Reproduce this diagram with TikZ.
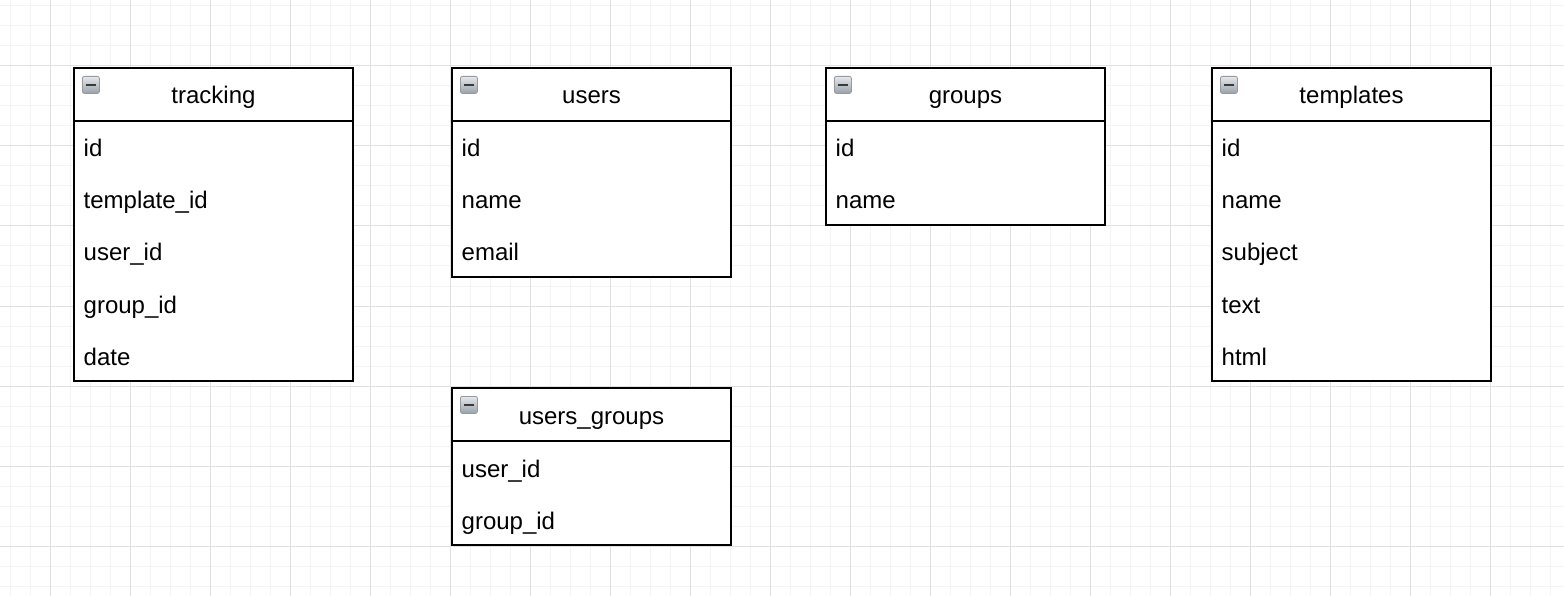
\documentclass[tikz,border=0pt]{standalone}
\usepackage{fontspec}
\setmainfont{Liberation Sans}
\usetikzlibrary{calc}

\definecolor{gridminor}{HTML}{F4F4F4}
\definecolor{gridmajor}{HTML}{E0E0E0}
\definecolor{icondark}{HTML}{3A3A3A}
\definecolor{iconlight}{HTML}{E4E8EC}
\definecolor{iconshade}{HTML}{9AA2AA}

\tikzset{
  tablebox/.style={draw=black, line width=2pt, fill=white, minimum width=279pt,
    inner sep=0pt, anchor=north west},
  tabletitle/.style={inner sep=0pt, anchor=base, font=\fontsize{24}{28}\selectfont},
  tablefield/.style={inner sep=0pt, anchor=base west, font=\fontsize{24}{28}\selectfont},
  divider/.style={line width=2pt},
  collapseicon/.style={draw=gray!80, line width=0.8pt, rounded corners=2pt,
    top color=iconlight, bottom color=iconshade, minimum width=17pt, minimum height=17pt,
    inner sep=0pt, anchor=north west},
  iconbar/.style={line width=2.4pt, draw=icondark},
}

% #1 node name, #2 left, #3 top, #4 title, #5 number of rows, #6 field list
\newcommand{\dbtable}[6]{%
  \node[tablebox, minimum height={53pt+52pt*#5}] (#1) at (#2,#3) {};
  \draw[divider] ([yshift=-54pt]#1.north west) -- ([yshift=-54pt]#1.north east);
  \node[collapseicon] (#1-icon) at ([xshift=9pt,yshift=-9pt]#1.north west) {};
  \draw[iconbar] ([xshift=-5pt]#1-icon.center) -- ([xshift=5pt]#1-icon.center);
  \node[tabletitle] (#1-title) at ([yshift=-37pt]#1.north) {#4};
  \foreach \f [count=\i from 0] in {#6} {
    \node[tablefield] (#1-f\i) at ([xshift=10.5pt,yshift={-90pt-52pt*\i}]#1.north west) {\f};
  }%
}

\begin{document}
\begin{tikzpicture}[x=1pt, y=-1pt]
  \useasboundingbox (0,0) rectangle (1564,596);
  \fill[white] (0,0) rectangle (1564,596);

  % background grid: fine lines every 20, stronger lines every 80
  \foreach \x in {10,30,...,1570} \draw[gridminor, line width=1pt] (\x,0) -- (\x,596);
  \foreach \y in {6,26,...,600} \draw[gridminor, line width=1pt] (0,\y) -- (1564,\y);
  \foreach \x in {50,130,...,1570} \draw[gridmajor, line width=1pt] (\x,0) -- (\x,596);
  \foreach \y in {66,146,...,600} \draw[gridmajor, line width=1pt] (0,\y) -- (1564,\y);

  \dbtable{tracking}{73}{67}{tracking}{5}{id,template\_id,user\_id,group\_id,date}
  \dbtable{users}{451}{67}{users}{3}{id,name,email}
  \dbtable{groups}{825}{67}{groups}{2}{id,name}
  \dbtable{templates}{1211}{67}{templates}{5}{id,name,subject,text,html}
  \dbtable{usersgroups}{451}{387}{users\_groups}{2}{user\_id,group\_id}
\end{tikzpicture}
\end{document}
